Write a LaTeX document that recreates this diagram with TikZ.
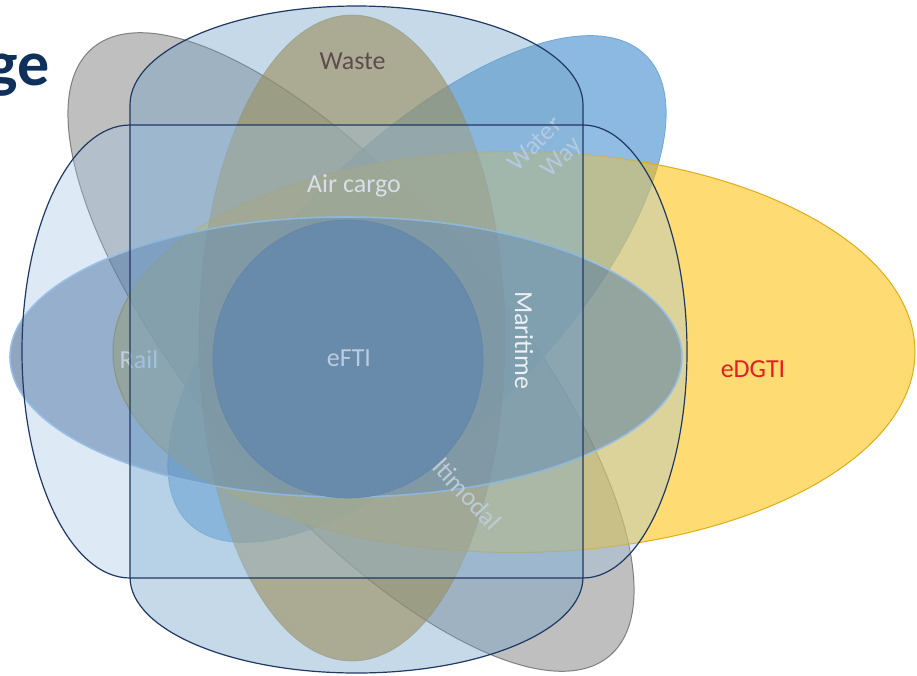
\documentclass[tikz,border=0pt]{standalone}
\usepackage{fontspec}
\setmainfont{Carlito}
\definecolor{greyF}{RGB}{128,128,128}
\definecolor{greyD}{RGB}{105,105,105}
\definecolor{blueF}{RGB}{91,155,213}
\definecolor{yelF}{RGB}{255,192,0}
\definecolor{yelD}{RGB}{225,172,20}
\definecolor{wasteF}{RGB}{185,130,22}
\definecolor{wasteD}{RGB}{150,135,80}
\definecolor{horF}{RGB}{35,75,125}
\definecolor{horD}{RGB}{150,190,228}
\definecolor{tallF}{RGB}{110,160,198}
\definecolor{wideF}{RGB}{157,195,230}
\definecolor{navy}{RGB}{31,56,100}
\definecolor{circF}{RGB}{104,139,171}
\definecolor{circD}{RGB}{98,133,167}
\definecolor{titleC}{RGB}{16,48,92}
\definecolor{lblA}{RGB}{215,224,233}
\definecolor{lblM}{RGB}{235,240,245}
\definecolor{lblE}{RGB}{188,204,222}
\definecolor{lblW}{RGB}{178,202,226}
\definecolor{lblMu}{RGB}{188,203,214}
\definecolor{lblR}{RGB}{205,215,228}
\definecolor{wasteT}{RGB}{95,75,78}
\definecolor{redT}{RGB}{230,30,30}
\begin{document}
\begin{tikzpicture}[x=1pt,y=-1pt,
  lbl/.style={font=\fontsize{26}{28}\selectfont, inner sep=0pt},
  navyline/.style={draw=navy, line width=1.2pt}]
\useasboundingbox (0,0) rectangle (917,675);
\clip (0,0) rectangle (917,675);
% title fragment
\node[anchor=base east, inner sep=0pt, text=titleC, font=\fontsize{64}{70}\selectfont\bfseries] (title) at (50,85) {ge};
% Multimodal (grey)
\path[fill=greyF, fill opacity=0.5, draw=greyD, draw opacity=0.8, line width=1pt, rotate around={-49.6:(351,352)}] (351,352) ellipse [x radius=399, y radius=151];
% Water Way (blue)
\path[fill=blueF, fill opacity=0.7, draw=blueF, draw opacity=0.8, line width=0.8pt, rotate around={45.7:(417,289)}] (417,289) ellipse [x radius=327, y radius=139];
% eDGTI (yellow)
\path[fill=yelF, fill opacity=0.55, draw=yelD, line width=1pt] (514,352) ellipse [x radius=401, y radius=200.5];
% Waste (olive)
\path[fill=wasteF, fill opacity=0.6, draw=wasteD, draw opacity=0.5, line width=0.8pt] (352,338) ellipse [x radius=153, y radius=323];
% horizontal ellipse
\path[fill=horF, fill opacity=0.5, draw=horD, line width=1.6pt] (346,357) ellipse [x radius=336, y radius=140];
\node[lbl, text=lblR] (rail) at (139,360) {Rail};
% tall rounded shape (fill)
\path[fill=tallF, fill opacity=0.4] (130,105) arc[start angle=180, end angle=360, x radius=226.5, y radius=99] -- (583,577) arc[start angle=0, end angle=180, x radius=226.5, y radius=96] -- cycle;
% wide rounded shape (fill)
\path[fill=wideF, fill opacity=0.35] (130,125) -- (583,125) arc[start angle=-90, end angle=90, x radius=104, y radius=226.5] -- (130,578) arc[start angle=90, end angle=270, x radius=108, y radius=226.5] -- cycle;
\node[lbl, text=lblMu, rotate=-47] (multi) at (455,481) {Multimodal};
% eFTI circle
\path[fill=circF, draw=circD, line width=0.6pt] (348,359) ellipse [x radius=135, y radius=139];
% labels
\node[lbl, text=wasteT] (waste) at (352.5,61) {Waste};
\node[lbl, text=lblA] (air) at (354,186) {Air cargo};
\node[lbl, text=lblE] (efti) at (349,358) {eFTI};
\node[lbl, text=lblM, rotate=-90] (mari) at (524,340) {Maritime};
\node[lbl, text=redT] (edgti) at (753,369) {eDGTI};
\node[lbl, text=lblW, rotate=45, align=right] (water) at (546,155) {Water\\Way};
% navy borders
\draw[navyline] (130,105) arc[start angle=180, end angle=360, x radius=226.5, y radius=99] -- (583,577) arc[start angle=0, end angle=180, x radius=226.5, y radius=96] -- cycle;
\draw[navyline] (130,125) -- (583,125) arc[start angle=-90, end angle=90, x radius=104, y radius=226.5] -- (130,578) arc[start angle=90, end angle=270, x radius=108, y radius=226.5] -- cycle;
\end{tikzpicture}
\end{document}
